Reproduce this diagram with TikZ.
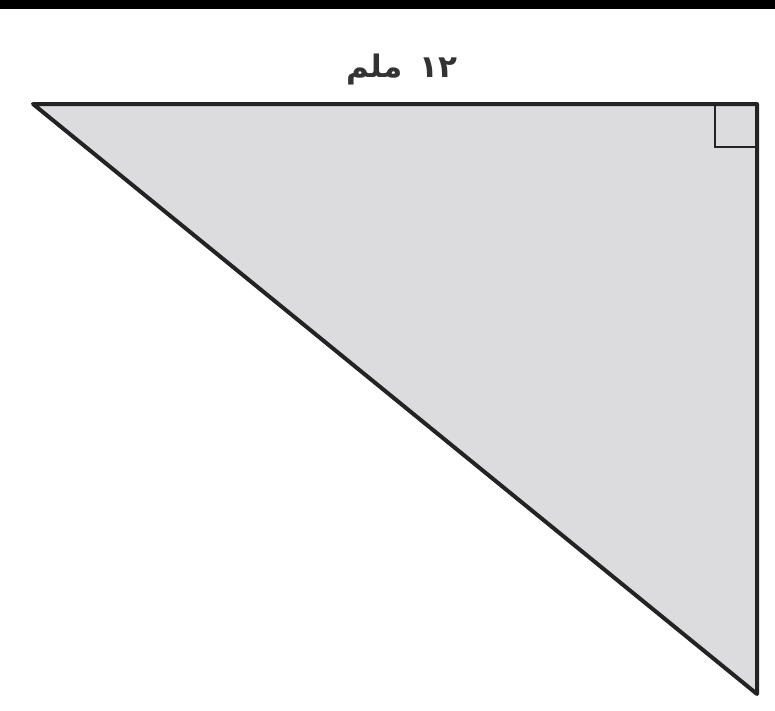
\documentclass[tikz,border=0pt]{standalone}
\usepackage{fontspec}
\newfontfamily\arabicfont[Script=Arabic]{DejaVu Sans}
\TeXXeTstate=1
\definecolor{tri}{RGB}{220,220,223}
\definecolor{edge}{RGB}{35,35,35}
\begin{document}
\begin{tikzpicture}[x=1pt,y=-1pt,
  side/.style={draw=edge,line width=4pt,line join=round},
  lbl/.style={font=\arabicfont\bfseries\fontsize{31}{34}\selectfont,text=black!80}]
\useasboundingbox (0,0) rectangle (775,710);
\fill[black] (0,0) rectangle (775,9);
\coordinate (A) at (33,104);
\coordinate (B) at (757,104);
\coordinate (C) at (757,694);
\fill[tri] (A) -- (B) -- (C) -- cycle;
\draw[side] (A) -- (B) -- (C) -- cycle;
\draw[draw=edge,line width=2.5pt] (715,104) -- (715,147) -- (757,147);
\node[lbl] (L) at (402,70) {\beginR\beginL١٢\endL{}\hspace{6pt} ملم\endR};
\end{tikzpicture}
\end{document}
